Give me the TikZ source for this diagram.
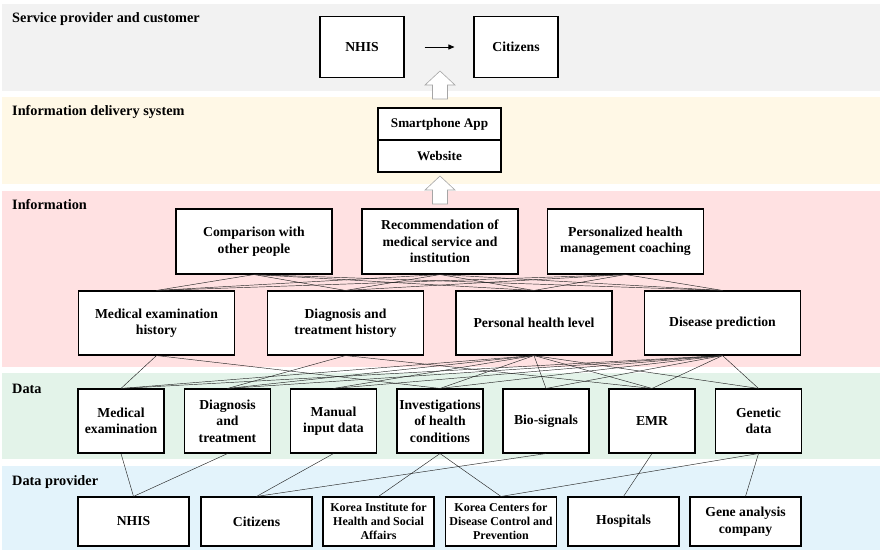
\documentclass[tikz,border=0pt]{standalone}
\usepackage{fontspec}
\setmainfont{Liberation Serif}
\usetikzlibrary{arrows.meta}
\definecolor{bgray}{RGB}{242,242,242}
\definecolor{byellow}{RGB}{255,248,230}
\definecolor{bpink}{RGB}{255,225,226}
\definecolor{bgreen}{RGB}{227,243,233}
\definecolor{bblue}{RGB}{227,243,251}
\begin{document}
\begin{tikzpicture}[x=1pt,y=-1pt,
  box/.style={draw=black, line width=1.1pt, fill=white, inner sep=0pt, align=center, font=\bfseries\fontsize{13.7}{16.5}\selectfont},
  smallbox/.style={box, font=\bfseries\fontsize{12}{14}\selectfont},
  appbox/.style={box, minimum width=123pt, minimum height=32pt, font=\bfseries\fontsize{13.2}{15}\selectfont},
  topbox/.style={box, minimum width=84pt, minimum height=61pt},
  infobox/.style={box, minimum width=156pt, minimum height=65pt},
  databox/.style={box, minimum width=86pt, minimum height=64pt},
  provbox/.style={box, minimum width=111pt, minimum height=49pt},
  lbl/.style={anchor=west, inner sep=0pt, font=\bfseries\fontsize{14.3}{17}\selectfont},
  conn/.style={draw=black!85, line width=0.45pt},
  hollow/.style={draw=black!35, fill=white, line width=0.6pt}]
\useasboundingbox (0,0) rectangle (880,551);
% bands
\fill[bgray] (2,4) rectangle (880,91);
\fill[byellow] (2,97) rectangle (880,184);
\fill[bpink] (2,191) rectangle (880,367);
\fill[bgreen] (2,373) rectangle (880,459);
\fill[bblue] (2,466) rectangle (880,550);
% band labels
\node[lbl] (l1) at (12,19) {Service provider and customer};
\node[lbl] (l2) at (12,112) {Information delivery system};
\node[lbl] (l3) at (12,205) {Information};
\node[lbl] (l4) at (12,389) {Data};
\node[lbl] (l5) at (12,482) {Data provider};
% hollow arrows
\draw[hollow] (440,71) -- (455,85) -- (447.5,85) -- (447.5,99) -- (432.5,99) -- (432.5,85) -- (425,85) -- cycle;
\draw[hollow] (440,176) -- (455,190) -- (447.5,190) -- (447.5,204) -- (432.5,204) -- (432.5,190) -- (425,190) -- cycle;
% top
\node[topbox] (tn) at (362,47) {NHIS};
\node[topbox] (tc) at (516,47) {Citizens};
\draw[-{Triangle[length=6pt,width=5pt]}, line width=0.8pt, shorten <=20pt, shorten >=19pt] (tn) -- (tc);
% delivery
\node[appbox] (app) at (439.5,124) {Smartphone App};
\node[appbox] (web) at (439.5,156) {Website};
% information row 1
\node[infobox] (i1) at (254,241.5) {Comparison with\\other people};
\node[infobox] (i2) at (440,241.5) {Recommendation of\\medical service and\\institution};
\node[infobox] (i3) at (625.5,241.5) {Personalized health\\management coaching};
% information row 2
\node[infobox, minimum height=64pt] (h1) at (156.5,323) {Medical examination\\history};
\node[infobox, minimum height=64pt] (h2) at (345.5,323) {Diagnosis and\\treatment history};
\node[infobox, minimum height=64pt] (h3) at (534,323) {Personal health level};
\node[infobox, minimum height=64pt] (h4) at (722.5,323) {Disease prediction};
% data
\node[databox] (d1) at (121,421) {Medical\\examination};
\node[databox] (d2) at (227.5,421) {Diagnosis\\and\\treatment};
\node[databox] (d3) at (333.5,421) {Manual\\input data};
\node[databox] (d4) at (440,421) {Investigations\\of health\\conditions};
\node[databox] (d5) at (546,421) {Bio-signals};
\node[databox] (d6) at (652,421) {EMR};
\node[databox] (d7) at (758.5,421) {Genetic\\data};
% providers
\node[provbox] (p1) at (133.5,521.5) {NHIS};
\node[provbox] (p2) at (256.5,521.5) {Citizens};
\node[provbox, smallbox] (p3) at (378.5,521.5) {Korea Institute for\\Health and Social\\Affairs};
\node[provbox, smallbox] (p4) at (501,521.5) {Korea Centers for\\Disease Control and\\Prevention};
\node[provbox] (p5) at (623.5,521.5) {Hospitals};
\node[provbox] (p6) at (745.5,521.5) {Gene analysis\\company};
% connectors info row1 -> row2
\foreach \a in {i1,i2,i3}{
  \foreach \b in {h1,h2,h3,h4}{
    \draw[conn] (\a.south) -- (\b.north);
  }
}
% connectors info row2 -> data
\draw[conn] (h1.south) -- (d1.north);
\draw[conn] (h1.south) -- (d4.north);
\draw[conn] (h2.south) -- (d2.north);
\draw[conn] (h2.south) -- (d6.north);
\foreach \a in {h3,h4}{
  \foreach \b in {d1,d2,d3,d4,d5,d6,d7}{
    \draw[conn] (\a.south) -- (\b.north);
  }
}
% connectors data -> providers
\draw[conn] (d1.south) -- (p1.north);
\draw[conn] (d2.south) -- (p1.north);
\draw[conn] (d3.south) -- (p2.north);
\draw[conn] (d4.south) -- (p3.north);
\draw[conn] (d4.south) -- (p4.north);
\draw[conn] (d5.south) -- (p2.north);
\draw[conn] (d6.south) -- (p5.north);
\draw[conn] (d7.south) -- (p4.north);
\draw[conn] (d7.south) -- (p6.north);
\end{tikzpicture}
\end{document}
